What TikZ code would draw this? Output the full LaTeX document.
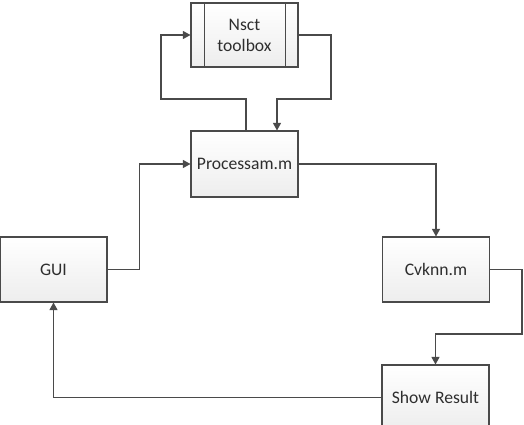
\documentclass[tikz,border=0pt]{standalone}
\usepackage{fontspec}
\setmainfont{Carlito}
\usepackage{tikz}
\usetikzlibrary{arrows.meta}
\definecolor{linegray}{HTML}{4A4A4A}
\definecolor{textgray}{HTML}{2E2E2E}

\tikzset{
  block/.style={draw=linegray, line width=1.1pt, top color=white, bottom color=gray!14,
    minimum width=107pt, minimum height=65pt, inner sep=2pt, align=center,
    text=textgray, font=\fontsize{17.6}{21}\selectfont},
  flow/.style={draw=linegray, line width=1.1pt, -{Triangle[width=8pt,length=7.5pt]}},
}

\begin{document}
\begin{tikzpicture}[x=1pt, y=-1pt]
  \useasboundingbox (0,0) rectangle (524,425);
  \clip (0,0) rectangle (524,425);

  % Define nodes
  \node[block, minimum height=64pt] (nsct) at (244.5,35) {Nsct\\toolbox};
  \node[block, minimum height=66pt] (proc) at (244.5,164) {Processam.m};
  \node[block]                      (gui)  at (53.5,269.5) {GUI};
  \node[block]                      (cv)   at (436,269.5) {Cvknn.m};
  \node[block]                      (show) at (435.5,397.5) {Show Result};

  % Predefined process bars
  \draw[linegray, line width=1.1pt] ([xshift=14pt]nsct.north west) -- ([xshift=14pt]nsct.south west);
  \draw[linegray, line width=1.1pt] ([xshift=-13pt]nsct.north east) -- ([xshift=-13pt]nsct.south east);

  % Bends
  \coordinate (lt) at (161,99);
  \coordinate (rt) at (331,99);
  \coordinate (cr) at (522,334);

  % Connect the nodes
  \draw[flow] ([xshift=1.5pt]proc.north) |- (lt) |- (nsct.west);
  \draw[flow] (nsct.east) -| (rt) -| ([xshift=32.5pt]proc.north);
  \draw[flow] (gui.east) -- ++(32pt,0) |- (proc.west);
  \draw[flow] (proc.east) -| (cv.north);
  \draw[flow] (cv.east) -| (cr) -| (show.north);
  \draw[flow] (show.west) -| (gui.south);

\end{tikzpicture}
\end{document}
